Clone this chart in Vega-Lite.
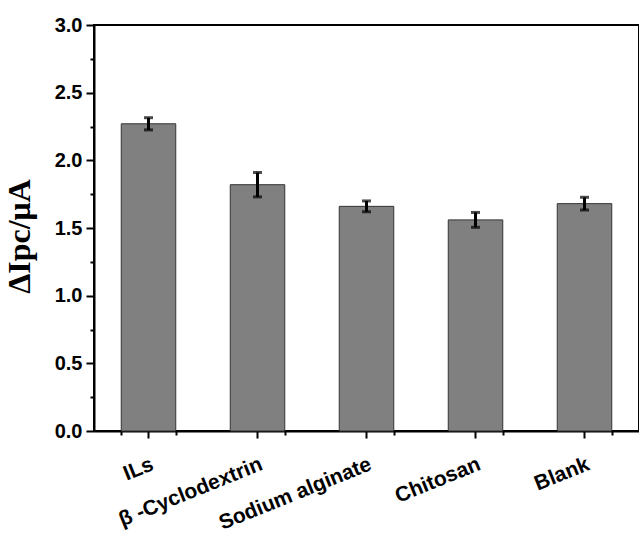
{
  "$schema": "https://vega.github.io/schema/vega-lite/v6.json",
  "width": 545,
  "height": 406,
  "autosize": "none",
  "padding": {"left": 94, "top": 25, "right": 0, "bottom": 105},
  "background": "white",
  "config": {
    "view": {"stroke": "black", "strokeWidth": 2},
    "axis": {"domainColor": "black", "domainWidth": 2, "tickColor": "black", "tickWidth": 2, "labelColor": "black", "grid": false}
  },
  "data": {
    "values": [
      {"material": "ILs", "value": 2.27, "lo": 2.225, "hi": 2.315},
      {"material": "β -Cyclodextrin", "value": 1.82, "lo": 1.73, "hi": 1.91},
      {"material": "Sodium alginate", "value": 1.66, "lo": 1.62, "hi": 1.70},
      {"material": "Chitosan", "value": 1.56, "lo": 1.505, "hi": 1.615},
      {"material": "Blank", "value": 1.68, "lo": 1.633, "hi": 1.727}
    ]
  },
  "layer": [
    {
      "mark": {"type": "bar", "fill": "#808080", "stroke": "#333333", "strokeWidth": 1},
      "encoding": {
        "x": {
          "field": "material", "type": "nominal", "sort": null,
          "scale": {"paddingInner": 0.5, "paddingOuter": 0.25},
          "axis": {"orient": "bottom", "title": null, "labelAngle": -22, "labelAlign": "right", "labelBaseline": "top",
            "labelFont": "Liberation Sans", "labelFontWeight": "bold", "labelFontSize": 21, "tickSize": 7, "labelPadding": 15, "labelOffset": 0, "domain": true}
        },
        "y": {
          "field": "value", "type": "quantitative",
          "scale": {"domain": [0, 3], "nice": false},
          "axis": {"orient": "left", "values": [0, 0.5, 1, 1.5, 2, 2.5, 3], "format": ".1f", "tickSize": 8,
            "labelFont": "Liberation Sans", "labelFontWeight": "bold", "labelFontSize": 20, "labelPadding": 4,
            "title": "ΔIpc/μA", "titleFont": "Liberation Serif", "titleFontWeight": "bold", "titleFontSize": 32, "titleColor": "black", "titlePadding": 18, "titleY": 211}
        }
      }
    },
    {
      "mark": {"type": "rule", "color": "black", "strokeWidth": 3},
      "encoding": {
        "x": {"field": "material", "type": "nominal", "sort": null,
          "axis": {"orient": "bottom", "labels": false, "title": null, "tickBand": "extent", "tickSize": 4, "domain": false}},
        "y": {"field": "lo", "type": "quantitative",
          "axis": {"orient": "left", "labels": false, "title": null, "values": [0.25, 0.75, 1.25, 1.75, 2.25, 2.75], "tickSize": 4, "domain": false}},
        "y2": {"field": "hi"}
      }
    },
    {
      "mark": {"type": "tick", "color": "black", "size": 9, "thickness": 3},
      "encoding": {
        "x": {"field": "material", "type": "nominal", "sort": null, "axis": null},
        "y": {"field": "lo", "type": "quantitative", "axis": null}
      }
    },
    {
      "mark": {"type": "tick", "color": "black", "size": 9, "thickness": 3},
      "encoding": {
        "x": {"field": "material", "type": "nominal", "sort": null, "axis": null},
        "y": {"field": "hi", "type": "quantitative", "axis": null}
      }
    }
  ],
  "resolve": {"axis": {"x": "independent", "y": "independent"}}
}
